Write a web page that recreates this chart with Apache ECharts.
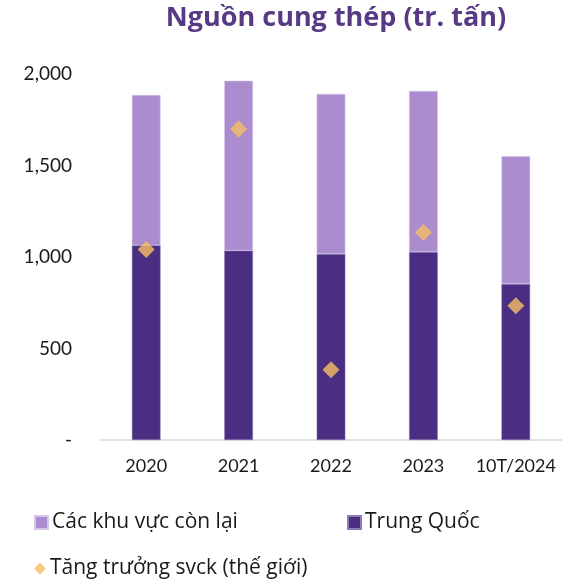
<!DOCTYPE html>
<html>
<head>
<meta charset="utf-8">
<script src="https://cdn.jsdelivr.net/npm/echarts@6/dist/echarts.min.js"></script>
<style>
  html, body { margin: 0; padding: 0; background: #fff; }
  #chart { width: 562px; height: 582px; }
</style>
</head>
<body>
<div id="chart"></div>
<script>
// dữ liệu
const categories = ['2020', '2021', '2022', '2023', '10T/2024']
const chinaValues = [1064, 1035, 1017, 1028, 853]
const totalValues = [1885, 1963, 1891, 1907, 1551]
const restValues = totalValues.map((t, i) => t - chinaValues[i])
const growthValues = [0.25, 4.2, -3.7, 0.8, -1.6] // % svck, trục phụ ẩn
const yTicks = [0, 500, 1000, 1500, 2000]

const fontFamily = 'Lato, "Noto Sans", sans-serif'
const wideFont = '"Open Sans", "Noto Sans", sans-serif'

const chart = echarts.init(document.getElementById('chart'))

const legendText = { fontSize: 21, color: '#1a1a1a', fontFamily: wideFont, padding: [0, 0, 0, -1] }

const option = {
  animation: false,
  textStyle: { fontFamily: fontFamily },
  title: {
    text: 'Nguồn cung thép (tr. tấn)',
    left: 331,
    textAlign: 'center',
    top: 0,
    textStyle: {
      color: '#583A84',
      fontSize: 27,
      fontWeight: 'bold',
      fontFamily: wideFont
    }
  },
  grid: {
    left: 100,
    right: -5,
    top: 74,
    bottom: 142
  },
  legend: [
    {
      left: 29,
      top: 507,
      itemWidth: 13,
      itemHeight: 13,
      icon: 'rect',
      data: ['Các khu vực còn lại'],
      textStyle: legendText
    },
    {
      left: 342,
      top: 507,
      itemWidth: 13,
      itemHeight: 13,
      icon: 'rect',
      data: ['Trung Quốc'],
      textStyle: legendText
    },
    {
      left: 29,
      top: 553,
      itemWidth: 12,
      itemHeight: 12,
      icon: 'diamond',
      data: ['Tăng trưởng svck (thế giới)'],
      textStyle: legendText
    }
  ],
  xAxis: {
    type: 'category',
    data: categories,
    axisLine: { lineStyle: { color: '#D9D9D9', width: 1.5 } },
    axisTick: { show: false },
    axisLabel: { color: '#1a1a1a', fontSize: 18, margin: 17, interval: 0 }
  },
  yAxis: [
    {
      type: 'value',
      min: yTicks[0],
      max: yTicks[yTicks.length - 1],
      interval: 500,
      splitLine: { show: false },
      axisLine: { show: false },
      axisTick: { show: false },
      axisLabel: {
        color: '#1a1a1a',
        fontSize: 19,
        margin: 28,
        formatter: function (value) {
          if (value === 0) return '-'
          return value.toLocaleString('en-US')
        }
      }
    },
    {
      type: 'value',
      min: -6,
      max: 6,
      show: false
    }
  ],
  series: [
    {
      name: 'Trung Quốc',
      type: 'bar',
      stack: 'total',
      barWidth: '31%',
      data: chinaValues,
      itemStyle: { color: '#4A2E82', borderColor: '#8E7BB8', borderWidth: 0.5 }
    },
    {
      name: 'Các khu vực còn lại',
      type: 'bar',
      stack: 'total',
      barWidth: '31%',
      data: restValues,
      itemStyle: { color: '#AB8CCE', borderColor: '#D6C6EA', borderWidth: 0.5 }
    },
    {
      name: 'Tăng trưởng svck (thế giới)',
      type: 'scatter',
      yAxisIndex: 1,
      symbol: 'diamond',
      symbolSize: 17,
      data: growthValues,
      itemStyle: { color: '#F5BE63' },
      z: 5
    }
  ]
}

chart.setOption(option)
</script>
</body>
</html>
